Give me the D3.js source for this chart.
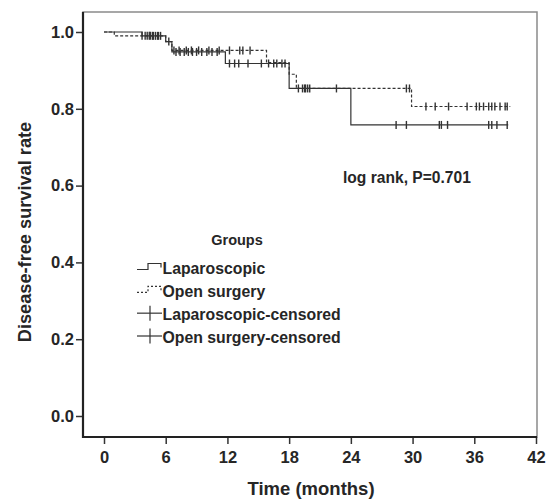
<!DOCTYPE html>
<html>
<head>
<meta charset="utf-8">
<script src="https://cdn.jsdelivr.net/npm/d3@7"></script>
<style>
  body { margin: 0; background: #fff; }
  svg { font-family: "Liberation Sans", Arial, sans-serif; }
</style>
</head>
<body>
<svg id="chart" width="553" height="501"></svg>
<script>
// Kaplan-Meier steps
const lapTimes = [0, 3.7, 6.0, 6.6, 11.8, 18.0, 24.0];
const lapSurv = [1.0, 0.99, 0.975, 0.948, 0.918, 0.853, 0.758];
const lapEnd = 39.3;
const lapCensor = [3.7, 4.2, 4.5, 4.8, 5.0, 5.3, 6.3, 7.0, 7.4, 7.8, 8.2, 8.6, 9.0, 9.5, 10.0,
    10.5, 11.0, 12.2, 12.7, 13.1, 14.0, 15.3, 16.0, 16.5, 16.8, 17.3, 17.6, 19.5, 19.8,
    28.4, 29.4, 32.6, 32.8, 33.4, 37.4, 37.7, 38.2, 39.2];

const openTimes = [0, 1.0, 6.0, 6.6, 15.8, 18.0, 18.7, 29.9];
const openSurv = [1.0, 0.99, 0.975, 0.952, 0.92, 0.89, 0.853, 0.806];
const openEnd = 39.5;
const openCensor = [4.0, 4.4, 4.7, 5.2, 5.5, 6.8, 7.3, 8.0, 8.5, 9.2, 10.2, 11.2, 12.2, 13.2,
    13.5, 14.2, 18.9, 19.3, 19.6, 20.0, 22.6, 29.4, 29.7, 31.3, 32.2, 33.5, 35.3, 36.2,
    36.5, 36.9, 37.4, 37.7, 38.0, 38.5, 39.0, 39.2];

const xTicks = [0, 6, 12, 18, 24, 30, 36, 42];
const yTicks = [0.0, 0.2, 0.4, 0.6, 0.8, 1.0];
const legendLabels = ["Laparoscopic", "Open surgery", "Laparoscopic-censored", "Open surgery-censored"];

const frame = { left: 83, right: 537, top: 12, bottom: 437 };
const ink = "#333";
const textInk = "#262626";

const svg = d3.select("#chart");

const x = d3.scaleLinear().domain([0, 42]).range([104, 536]);
const y = d3.scaleLinear().domain([0, 1]).range([416, 32]);

// plot box: light top/right, dark axes
svg.append("rect")
    .attr("x", frame.left).attr("y", frame.top)
    .attr("width", frame.right - frame.left)
    .attr("height", frame.bottom - frame.top)
    .attr("fill", "none")
    .attr("stroke", "#8a8a8a")
    .attr("stroke-width", 1.5);

svg.append("g")
    .attr("transform", `translate(${frame.left},0)`)
    .call(d3.axisLeft(y).tickValues(yTicks).tickFormat(d3.format(".1f")).tickSize(7).tickPadding(2))
    .call(g => g.select(".domain").remove())
    .call(g => g.selectAll("line").attr("stroke", ink).attr("stroke-width", 1.5))
    .call(g => g.selectAll("text")
        .attr("font-size", 16.5).attr("font-weight", "bold").attr("fill", textInk)
        .attr("font-family", "Liberation Sans, Arial, sans-serif"));

svg.append("g")
    .attr("transform", `translate(0,${frame.bottom})`)
    .call(d3.axisBottom(x).tickValues(xTicks).tickSize(7).tickPadding(7))
    .call(g => g.select(".domain").remove())
    .call(g => g.selectAll("line").attr("stroke", ink).attr("stroke-width", 1.5))
    .call(g => g.selectAll("text")
        .attr("font-size", 16.5).attr("font-weight", "bold").attr("fill", textInk)
        .attr("font-family", "Liberation Sans, Arial, sans-serif"));

svg.append("line")
    .attr("x1", frame.left).attr("x2", frame.left)
    .attr("y1", frame.top).attr("y2", frame.bottom + 1)
    .attr("stroke", "#222").attr("stroke-width", 2.2);
svg.append("line")
    .attr("x1", frame.left - 1).attr("x2", frame.right)
    .attr("y1", frame.bottom).attr("y2", frame.bottom)
    .attr("stroke", "#222").attr("stroke-width", 2.2);

// axis titles
svg.append("text")
    .attr("x", 311).attr("y", 495)
    .attr("text-anchor", "middle")
    .attr("font-size", 18.5).attr("font-weight", "bold").attr("fill", textInk)
    .text("Time (months)");

svg.append("text")
    .attr("transform", "translate(31,232) rotate(-90)")
    .attr("text-anchor", "middle")
    .attr("font-size", 18.2).attr("font-weight", "bold").attr("fill", textInk)
    .text("Disease-free survival rate");

// curves
const stepLine = d3.line()
    .x(d => x(d[0]))
    .y(d => y(d[1]))
    .curve(d3.curveStepAfter);

function curvePoints(times, surv, end) {
    const pts = times.map((t, i) => [t, surv[i]]);
    pts.push([end, surv[surv.length - 1]]);
    return pts;
}

function survAt(times, surv, t) {
    let s = surv[0];
    times.forEach((tt, i) => { if (tt <= t) s = surv[i]; });
    return s;
}

svg.append("path")
    .datum(curvePoints(openTimes, openSurv, openEnd))
    .attr("d", stepLine)
    .attr("fill", "none")
    .attr("stroke", ink)
    .attr("stroke-width", 1.2)
    .attr("stroke-dasharray", "3,2");

svg.append("path")
    .datum(curvePoints(lapTimes, lapSurv, lapEnd))
    .attr("d", stepLine)
    .attr("fill", "none")
    .attr("stroke", ink)
    .attr("stroke-width", 1.2);

function drawCensor(times, surv, censor) {
    const g = svg.append("g").attr("stroke", ink).attr("stroke-width", 1.4);
    g.selectAll("line")
        .data(censor)
        .enter()
        .append("line")
        .attr("x1", d => x(d)).attr("x2", d => x(d))
        .attr("y1", d => y(survAt(times, surv, d)) - 4)
        .attr("y2", d => y(survAt(times, surv, d)) + 4);
}
drawCensor(lapTimes, lapSurv, lapCensor);
drawCensor(openTimes, openSurv, openCensor);

// annotation
svg.append("text")
    .attr("x", 343).attr("y", 183)
    .attr("font-size", 15.6).attr("font-weight", "bold").attr("fill", textInk)
    .text("log rank, P=0.701");

// legend
const legend = svg.append("g").attr("transform", "translate(137,0)");
legend.append("text")
    .attr("x", 100).attr("y", 245)
    .attr("text-anchor", "middle")
    .attr("font-size", 14.5).attr("font-weight", "bold").attr("fill", textInk)
    .text("Groups");

const rowY = d3.scaleLinear().domain([0, 3]).range([268.5, 337]);

legendLabels.forEach((label, i) => {
    const cy = rowY(i);
    if (i < 2) {
        legend.append("path")
            .attr("d", `M0,${cy + 1}H11V${cy - 5}H24V${cy - 1}`)
            .attr("fill", "none")
            .attr("stroke", ink)
            .attr("stroke-width", 1.2)
            .attr("stroke-dasharray", i === 1 ? "2,2" : null);
    } else {
        legend.append("line")
            .attr("x1", 0).attr("x2", 25).attr("y1", cy - 1).attr("y2", cy - 1)
            .attr("stroke", ink).attr("stroke-width", 1.2);
        legend.append("line")
            .attr("x1", 13).attr("x2", 13).attr("y1", cy - 8.5).attr("y2", cy + 6.5)
            .attr("stroke", ink).attr("stroke-width", 1.2);
    }
    legend.append("text")
        .attr("x", 25.5).attr("y", cy + 5.6)
        .attr("font-size", 15.8).attr("font-weight", "bold").attr("fill", textInk)
        .text(label);
});
</script>
</body>
</html>
